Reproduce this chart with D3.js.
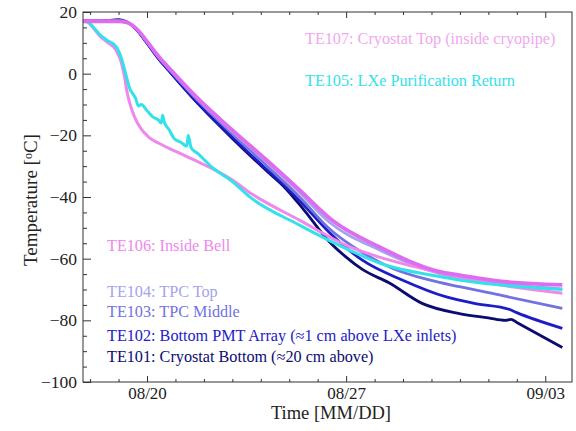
<!DOCTYPE html>
<html>
<head>
<meta charset="utf-8">
<script src="https://cdn.jsdelivr.net/npm/d3@7"></script>
<style>
  body { margin: 0; background: #fff; }
  text { font-family: "Liberation Serif", "DejaVu Serif", serif; }
</style>
</head>
<body>
<div id="chart"></div>
<script>
// day numbers counted in August (32 = 09/01 ...), temperature in degC
let te107 = [[17.75,17],[19.0,17],[19.3,16.6],[20.5,4.6],[21.84,-8.5],[23.0,-18.3],[24.2,-28],[25.36,-37.7],[26.52,-47.6],[28.17,-56.2],[30.27,-64.2],[30.98,-65.3],[32.38,-67.3],[34.6,-68.5]]
let te106 = [[17.75,17],[17.9,16.8],[18.1,15],[18.33,12.3],[18.6,10.2],[18.92,7.5],[19.1,3.5],[19.21,-1],[19.3,-6],[19.39,-9.5],[19.56,-14],[19.8,-18],[20.09,-20.8],[20.4,-22.5],[20.79,-24.3],[21.2,-26],[21.73,-28.3],[22.3,-30.8],[23.0,-34.5],[23.6,-38.5],[25.36,-47.5],[27.11,-56.1],[28.17,-59.5],[30.27,-64.5],[32.38,-68.5],[34.6,-71.2]]
let te105 = [[17.75,17],[17.9,16.8],[18.1,15.2],[18.33,12.8],[18.6,10.8],[18.92,8.7],[19.1,5],[19.25,0],[19.4,-5],[19.5,-6.5],[19.6,-8],[19.7,-10.5],[19.8,-10],[20.0,-12],[20.2,-14],[20.4,-15],[20.5,-16],[20.55,-13.5],[20.6,-15.5],[20.8,-18.5],[20.95,-21],[21.2,-22.3],[21.4,-23.5],[21.45,-20],[21.55,-24],[21.8,-26],[22.3,-30.5],[23.0,-35],[23.6,-39.9],[25.36,-49.1],[27.11,-57.2],[28.17,-61.4],[30.27,-65.8],[30.98,-66.9],[32.38,-68.5],[34.6,-70]]
let te104 = [[17.75,17],[19.0,17],[19.3,16.6],[20.5,4.4],[21.84,-8.8],[23.0,-18.8],[24.2,-28.6],[25.36,-38.5],[26.41,-48.2],[28.17,-57.2],[30.27,-64.8],[32.38,-68],[34.6,-69.8]]
let te103 = [[17.75,17],[19.0,17],[19.3,16.6],[20.5,4.2],[21.84,-9.2],[23.0,-19.5],[24.2,-29.8],[25.36,-40],[26.41,-50.3],[27.57,-58],[28.6,-63],[29.92,-66.9],[30.98,-69.1],[32.5,-72],[34.6,-76.1]]
let te102 = [[17.75,17],[19.0,17.1],[19.25,16.8],[20.5,3.8],[21.84,-10],[23.0,-20.6],[24.2,-31],[24.8,-36],[25.5,-42.5],[26.41,-51.5],[27.57,-60.5],[28.97,-66.9],[30.52,-72.4],[31.5,-74.5],[32.75,-76.5],[33.0,-77.5],[34.6,-82.6]]
let te101 = [[17.75,17.1],[18.6,17.2],[19.0,17.5],[19.25,17],[20.5,3.8],[21.84,-10.2],[23.0,-21],[24.2,-31.5],[24.8,-36.5],[25.5,-44],[26.41,-54.5],[27.0,-59.5],[27.57,-63.5],[28.52,-67.9],[29.67,-74.5],[30.98,-77.8],[32.0,-79.2],[32.6,-80],[32.8,-79.7],[33.0,-80.7],[34.6,-88.8]]

let xDomain = [17.75, 34.94]
let yDomain = [-100, 20]
let xMajor = [20, 27, 34]
let xMajorLabels = ['08/20', '08/27', '09/03']
let yMajor = [-100, -80, -60, -40, -20, 0, 20]

let series = [
  { name: 'TE101: Cryostat Bottom (\u224820 cm above)', data: te101, color: '#0c0c70', lx: 107, ly: 362, w: 2.8 },
  { name: 'TE102: Bottom PMT Array (\u22481 cm above LXe inlets)', data: te102, color: '#1c1cc8', lx: 107, ly: 341, w: 2.8 },
  { name: 'TE103: TPC Middle', data: te103, color: '#7272e0', lx: 107, ly: 317, w: 2.8 },
  { name: 'TE104: TPC Top', data: te104, color: '#a4a4ec', lx: 107, ly: 297, w: 2.8 },
  { name: 'TE106: Inside Bell', data: te106, color: '#ee88ee', lx: 107, ly: 251, w: 3 },
  { name: 'TE105: LXe Purification Return', data: te105, color: '#33e2e8', lx: 305, ly: 86, w: 3 },
  { name: 'TE107: Cryostat Top (inside cryopipe)', data: te107, color: '#dd6cf0', lx: 305, ly: 44, w: 3.8, labelColor: '#f0a8f0' }
]

let margin = { top: 12, left: 83, right: 4, bottom: 49 }
let width = 576 - margin.left - margin.right
let height = 431 - margin.top - margin.bottom

let svg = d3.select('#chart')
  .append('svg')
  .attr('width', 576)
  .attr('height', 431)
  .append('g')
  .attr('transform', 'translate(' + margin.left + ',' + margin.top + ')')

let x = d3.scaleLinear().domain(xDomain).range([0, width])
let y = d3.scaleLinear().domain(yDomain).range([height, 0])

svg.append('clipPath').attr('id', 'clip')
  .append('rect').attr('width', width).attr('height', height)

let line = d3.line()
  .x(d => x(d[0]))
  .y(d => y(d[1]))
  .curve(d3.curveMonotoneX)

svg.append('g')
  .attr('clip-path', 'url(#clip)')
  .selectAll('path')
  .data(series)
  .enter().append('path')
  .attr('d', d => line(d.data))
  .attr('fill', 'none')
  .attr('stroke', d => d.color)
  .attr('stroke-width', d => d.w)
  .attr('stroke-linejoin', 'round')

// frame
svg.append('rect')
  .attr('width', width)
  .attr('height', height)
  .attr('fill', 'none')
  .attr('stroke', '#333')
  .attr('stroke-width', 1)

// x ticks, one per day, bottom and top
let days = d3.range(18, 35)
let xMinor = days.filter(d => !xMajor.includes(d))
svg.append('g')
  .attr('transform', 'translate(0,' + height + ')')
  .call(d3.axisBottom(x).tickValues(xMinor).tickSize(-3).tickFormat(''))
let xLab = svg.append('g')
  .attr('transform', 'translate(0,' + height + ')')
  .call(d3.axisBottom(x).tickValues(xMajor).tickSize(-6).tickPadding(5)
    .tickFormat((d, i) => xMajorLabels[i]))
svg.append('g')
  .call(d3.axisTop(x).tickValues(xMinor).tickSize(-3).tickFormat(''))
svg.append('g')
  .call(d3.axisTop(x).tickValues(xMajor).tickSize(-6).tickFormat(''))

// y ticks
let yMinor = d3.range(-95, 20, 5).filter(d => !yMajor.includes(d))
let yLab = svg.append('g')
  .call(d3.axisLeft(y).tickValues(yMinor).tickSize(-4).tickFormat(''))
svg.append('g')
  .call(d3.axisLeft(y).tickValues(yMajor).tickSize(-8).tickPadding(6)
    .tickFormat(d => d < 0 ? '\u2212' + Math.abs(d) : d))

svg.selectAll('.domain').remove()
svg.selectAll('.tick line').attr('stroke', '#333')
svg.selectAll('.tick text')
  .attr('fill', '#222')
  .style('font-family', '"Liberation Serif", serif')
  .style('font-size', '17.5px')
xLab.selectAll('.tick text').style('font-size', '17px')

// axis titles
svg.append('text')
  .attr('x', 248)
  .attr('y', 407)
  .attr('text-anchor', 'middle')
  .attr('fill', '#222')
  .style('font-size', '18.5px')
  .text('Time [MM/DD]')

let yTitle = svg.append('text')
  .attr('transform', 'translate(-46,' + (height / 2 + 3) + ') rotate(-90)')
  .attr('text-anchor', 'middle')
  .attr('fill', '#222')
  .style('font-size', '19px')
yTitle.append('tspan').text('Temperature [')
yTitle.append('tspan').attr('baseline-shift', '40%').style('font-size', '12px').text('o')
yTitle.append('tspan').text('C]')

// labels
svg.append('g')
  .selectAll('text')
  .data(series)
  .enter().append('text')
  .attr('x', d => d.lx - margin.left)
  .attr('y', d => d.ly - margin.top)
  .attr('fill', d => d.labelColor || d.color)
  .style('font-size', '16.2px')
  .text(d => d.name)
</script>
</body>
</html>
